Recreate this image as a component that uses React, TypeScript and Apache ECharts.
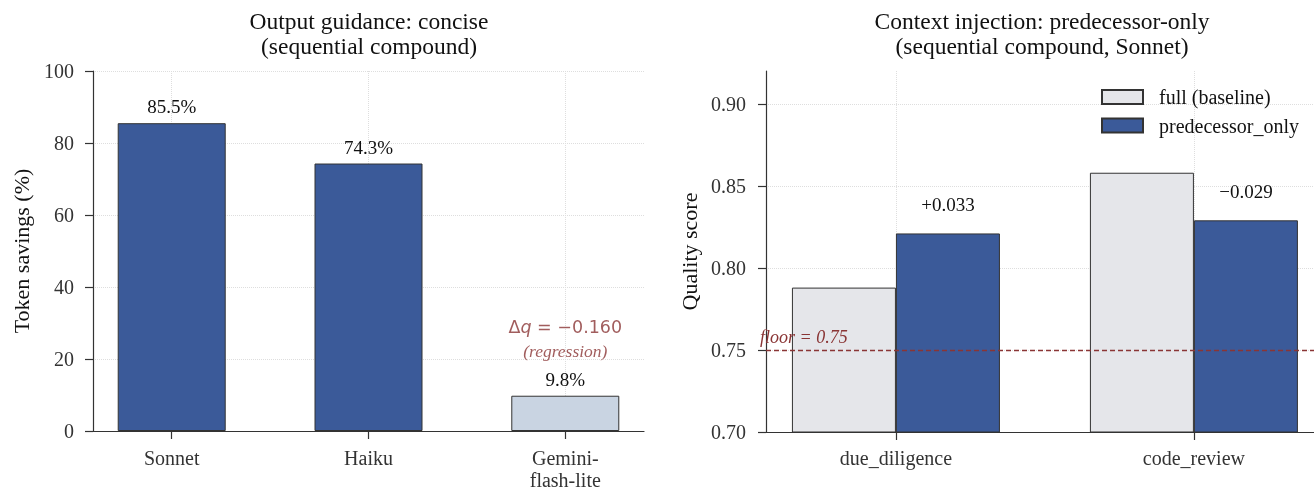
import React, { useEffect, useRef } from "react";
import * as echarts from "echarts";

// ---- data ----
const models = ["Sonnet", "Haiku", "Gemini-\nflash-lite"];
const savings = [85.5, 74.3, 9.8];
const modelRegression = [false, false, true];
const deltaQ = [null, null, -0.16];
const savingsTicks = [0, 20, 40, 60, 80, 100];

const tasks = ["due_diligence", "code_review"];
const seriesNames = ["full (baseline)", "predecessor_only"];
const fullScores = [0.788, 0.858];
const predScores = [0.821, 0.829];
const qualityTicks = [0.7, 0.75, 0.8, 0.85, 0.9];
const qualityFloor = 0.75;

const SERIF = '"Liberation Serif", "DejaVu Serif", serif';
const SANS = '"DejaVu Sans", sans-serif';
const BLUE = "#3b5a99";
const LIGHT = "#c9d4e2";
const GREY = "#e5e6ea";
const RED = "#8a3535";
const AXIS = "#333333";
const GRID = { type: "dotted" as const, color: "#dedede", width: 1 };

const signed = (d: number) => (d >= 0 ? "+" : "\u2212") + Math.abs(d).toFixed(3);
const minus = (d: number) => (d < 0 ? "\u2212" : "") + Math.abs(d).toFixed(3);

export default function App() {
  const ref = useRef<HTMLDivElement>(null);
  useEffect(() => {
    if (!ref.current) return;
    const chart = echarts.init(ref.current, null, { renderer: "svg" });
    const idx = models.map((_, i) => i);
    const taskIdx = tasks.map((_, i) => i);
    const axisCommon = {
      axisLine: { show: true, onZero: false, lineStyle: { color: AXIS, width: 1.2 } },
      axisTick: { show: true, length: 8, lineStyle: { color: AXIS, width: 1.2 } },
      splitLine: { show: true, lineStyle: GRID },
    };
    const titleStyle = {
      fontSize: 23.5,
      fontFamily: SERIF,
      lineHeight: 25,
      align: "center",
      verticalAlign: "top",
      fill: "#111",
    };
    const option: any = {
      animation: false,
      graphic: [
        {
          type: "text",
          x: 369,
          y: 8,
          style: { ...titleStyle, text: "Output guidance: concise\n(sequential compound)" },
        },
        {
          type: "text",
          x: 1042,
          y: 8,
          style: {
            ...titleStyle,
            text: "Context injection: predecessor-only\n(sequential compound, Sonnet)",
          },
        },
      ],
      legend: {
        data: seriesNames,
        orient: "vertical",
        left: 1101,
        top: 87,
        padding: 0,
        icon: "rect",
        itemWidth: 41,
        itemHeight: 14,
        itemGap: 8.5,
        textStyle: { fontFamily: SERIF, fontSize: 20, color: "#111", padding: [0, 0, 0, 11] },
      },
      grid: [
        { left: 93, top: 71, width: 551, height: 361 },
        { left: 766, top: 71, width: 548, height: 361 },
      ],
      xAxis: [
        {
          type: "value",
          gridIndex: 0,
          min: -0.4,
          max: 2.4,
          ...axisCommon,
          axisTick: { ...axisCommon.axisTick, customValues: idx },
          axisLabel: {
            customValues: idx,
            formatter: (v: number) => models[Math.round(v)] ?? "",
            fontFamily: SERIF,
            fontSize: 20,
            color: "#333",
            margin: 16,
            lineHeight: 22,
          },
        },
        {
          type: "value",
          gridIndex: 1,
          min: -0.436,
          max: 1.403,
          ...axisCommon,
          axisTick: { ...axisCommon.axisTick, customValues: taskIdx },
          axisLabel: {
            customValues: taskIdx,
            formatter: (v: number) => tasks[Math.round(v)] ?? "",
            fontFamily: SERIF,
            fontSize: 20,
            color: "#333",
            margin: 16,
          },
        },
      ],
      yAxis: [
        {
          type: "value",
          gridIndex: 0,
          min: 0,
          max: 100,
          ...axisCommon,
          axisTick: { ...axisCommon.axisTick, customValues: savingsTicks },
          axisLabel: {
            customValues: savingsTicks,
            fontFamily: SERIF,
            fontSize: 20,
            color: "#333",
            margin: 19,
          },
          name: "Token savings (%)",
          nameLocation: "middle",
          nameGap: 61,
          nameTextStyle: { fontFamily: SERIF, fontSize: 22, color: "#111" },
        },
        {
          type: "value",
          gridIndex: 1,
          min: 0.7,
          max: 0.92,
          ...axisCommon,
          axisTick: { ...axisCommon.axisTick, customValues: qualityTicks },
          axisLabel: {
            customValues: qualityTicks,
            formatter: (v: number) => v.toFixed(2),
            fontFamily: SERIF,
            fontSize: 20,
            color: "#333",
            margin: 20,
          },
          name: "Quality score",
          nameLocation: "middle",
          nameGap: 66,
          nameTextStyle: { fontFamily: SERIF, fontSize: 22, color: "#111" },
        },
      ],
      series: [
        {
          type: "bar",
          xAxisIndex: 0,
          yAxisIndex: 0,
          barWidth: 108,
          data: savings.map((v, i) => ({
            value: [i, v],
            itemStyle: { color: modelRegression[i] ? LIGHT : BLUE },
          })),
          itemStyle: { borderColor: AXIS, borderWidth: 1 },
          label: {
            show: true,
            position: "top",
            distance: 7,
            formatter: (p: any) => p.value[1].toFixed(1) + "%",
            fontFamily: SERIF,
            fontSize: 19,
            color: "#111",
          },
        },
        {
          type: "scatter",
          xAxisIndex: 0,
          yAxisIndex: 0,
          symbolSize: 0,
          silent: true,
          data: savings
            .map((v, i) => ({ value: [i, v], dq: deltaQ[i] }))
            .filter((d) => d.dq !== null),
          label: {
            show: true,
            position: "top",
            distance: 33,
            formatter: (p: any) =>
              `{a|\u0394}{q|q}{a| = ${minus(p.data.dq)}}\n{b|(regression)}`,
            rich: {
              a: { fontFamily: SANS, fontSize: 17.5, color: RED, lineHeight: 24 },
              q: { fontFamily: SANS, fontSize: 17.5, fontStyle: "italic", color: RED, lineHeight: 24 },
              b: { fontFamily: SERIF, fontSize: 17.5, fontStyle: "italic", color: RED, lineHeight: 24 },
            },
          },
        },
        {
          name: seriesNames[0],
          type: "bar",
          xAxisIndex: 1,
          yAxisIndex: 1,
          barWidth: 104,
          barGap: "0%",
          data: fullScores.map((v, i) => [i, v]),
          itemStyle: { color: GREY, borderColor: AXIS, borderWidth: 1 },
        },
        {
          name: seriesNames[1],
          type: "bar",
          xAxisIndex: 1,
          yAxisIndex: 1,
          barWidth: 104,
          barGap: "0%",
          data: predScores.map((v, i) => ({ value: [i, v], delta: v - fullScores[i] })),
          itemStyle: { color: BLUE, borderColor: AXIS, borderWidth: 1 },
          label: {
            show: true,
            position: "top",
            distance: 19,
            formatter: (p: any) => signed(p.data.delta),
            fontFamily: SERIF,
            fontSize: 19,
            color: "#111",
          },
          markLine: {
            silent: true,
            symbol: "none",
            data: [{ yAxis: qualityFloor }],
            lineStyle: { type: [5, 3], color: RED, width: 1.3 },
            label: {
              show: true,
              position: "insideStartTop",
              formatter: () => `floor = ${qualityFloor.toFixed(2)}`,
              fontFamily: SERIF,
              fontStyle: "italic",
              fontSize: 18,
              color: RED,
              distance: [-6, 4],
            },
          },
        },
      ],
    };
    chart.setOption(option);
    return () => chart.dispose();
  }, []);
  return (
    <div
      ref={ref}
      style={{ position: "fixed", left: 0, top: 0, width: 1314, height: 491 }}
    />
  );
}
